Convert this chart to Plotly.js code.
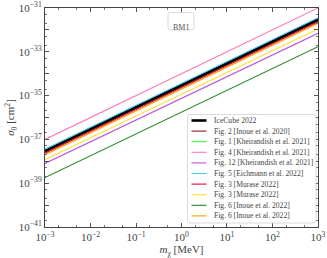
<!DOCTYPE html>
<html>
<head>
<meta charset="utf-8">
<script src="https://cdn.plot.ly/plotly-3.0.1.min.js"></script>
<style>html,body{margin:0;padding:0;background:#fff;}#chart{width:327px;height:258px;}</style>
</head>
<body>
<div id="chart"></div>
<script>
// Data (mass in MeV, cross-section in cm^2)
const mass = [1e-3, 1e3];
const seriesNames = [
  "IceCube 2022",
  "Fig. 2 [Inoue et al. 2020]",
  "Fig. 1 [Kheirandish et al. 2021]",
  "Fig. 4 [Kheirandish et al. 2021]",
  "Fig. 12 [Kheirandish et al. 2021]",
  "Fig. 5 [Eichmann et al. 2022]",
  "Fig. 3 [Murase 2022]",
  "Fig. 3 [Murase 2022]",
  "Fig. 6 [Inoue et al. 2022]",
  "Fig. 6 [Inoue et al. 2022]"
];
const iceCube   = [3.0e-38, 3.0e-32];
const inoue2020 = [2.6e-38, 2.6e-32];
const kh2021f1  = [3.0e-38, 3.0e-32];
const kh2021f4  = [1.0e-37, 1.0e-31];
const kh2021f12 = [8.0e-39, 7.0e-33];
const eichmann  = [3.6e-38, 3.6e-32];
const murase1   = [2.3e-38, 2.3e-32];
const murase2   = [1.2e-38, 1.1e-32];
const inoue22a  = [1.8e-39, 1.7e-33];
const inoue22b  = [2.0e-38, 2.0e-32];
const yTickVals = [1e-41,1e-40,1e-39,1e-38,1e-37,1e-36,1e-35,1e-34,1e-33,1e-32,1e-31];
const yTickText = ["10<sup>−41</sup>","","10<sup>−39</sup>","","10<sup>−37</sup>","","10<sup>−35</sup>","","10<sup>−33</sup>","","10<sup>−31</sup>"];
const xTickVals = [1e-3,1e-2,1e-1,1,10,100,1000];
const xTickText = ["10<sup>−3</sup>","10<sup>−2</sup>","10<sup>−1</sup>","10<sup>0</sup>","10<sup>1</sup>","10<sup>2</sup>","10<sup>3</sup>"];

const seriesY = [iceCube, inoue2020, kh2021f1, kh2021f4, kh2021f12, eichmann, murase1, murase2, inoue22a, inoue22b];
const colors = ["#000000","#8b1a1a","#33ff33","#ff77bb","#bb55dd","#44ccff","#dd0033","#ffdd22","#228b22","#ff9900"];
const widths = [2.6,1.1,1.1,1.1,1.1,1.1,1.1,1.1,1.1,1.1];
const order = [2,1,6,9,7,4,8,3,0,5];

const traces = order.map(i => ({
  x: mass, y: seriesY[i], type: 'scatter', mode: 'lines',
  name: seriesNames[i], showlegend: false,
  line: {color: colors[i], width: widths[i]}
}));

// plot-area pixel geometry -> paper coordinates helpers
const L = 45, T = 8, W = 273, H = 219;
const px = v => (v - L) / W;
const py = v => 1 - (v - T) / H;
function roundRect(x0, y0, x1, y1, r) {
  const a = px(x0), b = px(x1), c = py(y0), d = py(y1);
  const rx = r / W, ry = r / H;
  return `M${a+rx},${c} L${b-rx},${c} Q${b},${c} ${b},${c-ry} L${b},${d+ry} Q${b},${d} ${b-rx},${d} L${a+rx},${d} Q${a},${d} ${a},${d+ry} L${a},${c-ry} Q${a},${c} ${a+rx},${c} Z`;
}

const shapes = [];
const annotations = [];
const serif = "Liberation Serif, serif";
// BM1 box
shapes.push({type: 'path', xref: 'paper', yref: 'paper', path: roundRect(168, 12.5, 194, 30, 2.5),
  line: {color: "#d0d0d0", width: 0.8}, fillcolor: "rgba(255,255,255,0.9)"});
annotations.push({xref: 'paper', yref: 'paper', x: px(181), y: py(21.2), text: "BM1", showarrow: false,
  font: {family: serif, size: 8, color: "#555"}});
// legend
shapes.push({type: 'path', xref: 'paper', yref: 'paper', path: roundRect(187.5, 114.5, 316, 223, 2.5),
  line: {color: "#d0d0d0", width: 0.8}, fillcolor: "rgba(255,255,255,0.9)"});
for (let i = 0; i < seriesNames.length; i++) {
  const yy = 120.5 + 10.6 * i;
  shapes.push({type: 'line', xref: 'paper', yref: 'paper', x0: px(191.5), x1: px(206.5), y0: py(yy), y1: py(yy),
    line: {color: colors[i], width: i === 0 ? 2.6 : 1.1}});
  annotations.push({xref: 'paper', yref: 'paper', x: px(212), y: py(yy), xanchor: 'left', yanchor: 'middle',
    text: seriesNames[i], showarrow: false, font: {family: serif, size: 7.6, color: "#444"}});
}

const layout = {
  width: 327, height: 258,
  margin: {l: L, r: 327 - L - W, t: T, b: 258 - T - H},
  paper_bgcolor: "#fff", plot_bgcolor: "#fff",
  font: {family: serif, color: "#444"},
  showlegend: false,
  xaxis: {
    type: 'log', range: [-3.0005, 3.0005],
    tickvals: xTickVals, ticktext: xTickText, ticklabeloverflow: 'allow',
    ticks: 'inside', ticklen: 4, tickcolor: "#555",
    minor: {ticks: 'inside', ticklen: 2, tickcolor: "#777", showgrid: false},
    showline: true, linecolor: "#444", linewidth: 1, mirror: 'allticks',
    showgrid: false, zeroline: false,
    tickfont: {family: serif, size: 11, color: "#444"},
    title: {text: "<i>m</i><sub>χ</sub> [MeV]", font: {family: serif, size: 11, color: "#444"}, standoff: 0}
  },
  yaxis: {
    type: 'log', range: [-41.0005, -30.9995],
    tickvals: yTickVals, ticktext: yTickText, ticklabeloverflow: 'allow',
    ticks: 'inside', ticklen: 4, tickcolor: "#555",
    minor: {ticks: 'inside', ticklen: 2, tickcolor: "#777", showgrid: false},
    showline: true, linecolor: "#444", linewidth: 1, mirror: 'allticks',
    showgrid: false, zeroline: false,
    tickfont: {family: serif, size: 11, color: "#444"},
    title: {text: "<i>σ</i><sub>0</sub> [cm<sup>2</sup>]", font: {family: serif, size: 11, color: "#444"}, standoff: 0}
  },
  shapes: shapes,
  annotations: annotations
};
Plotly.newPlot('chart', traces, layout, {staticPlot: true, displayModeBar: false});
</script>
</body>
</html>
